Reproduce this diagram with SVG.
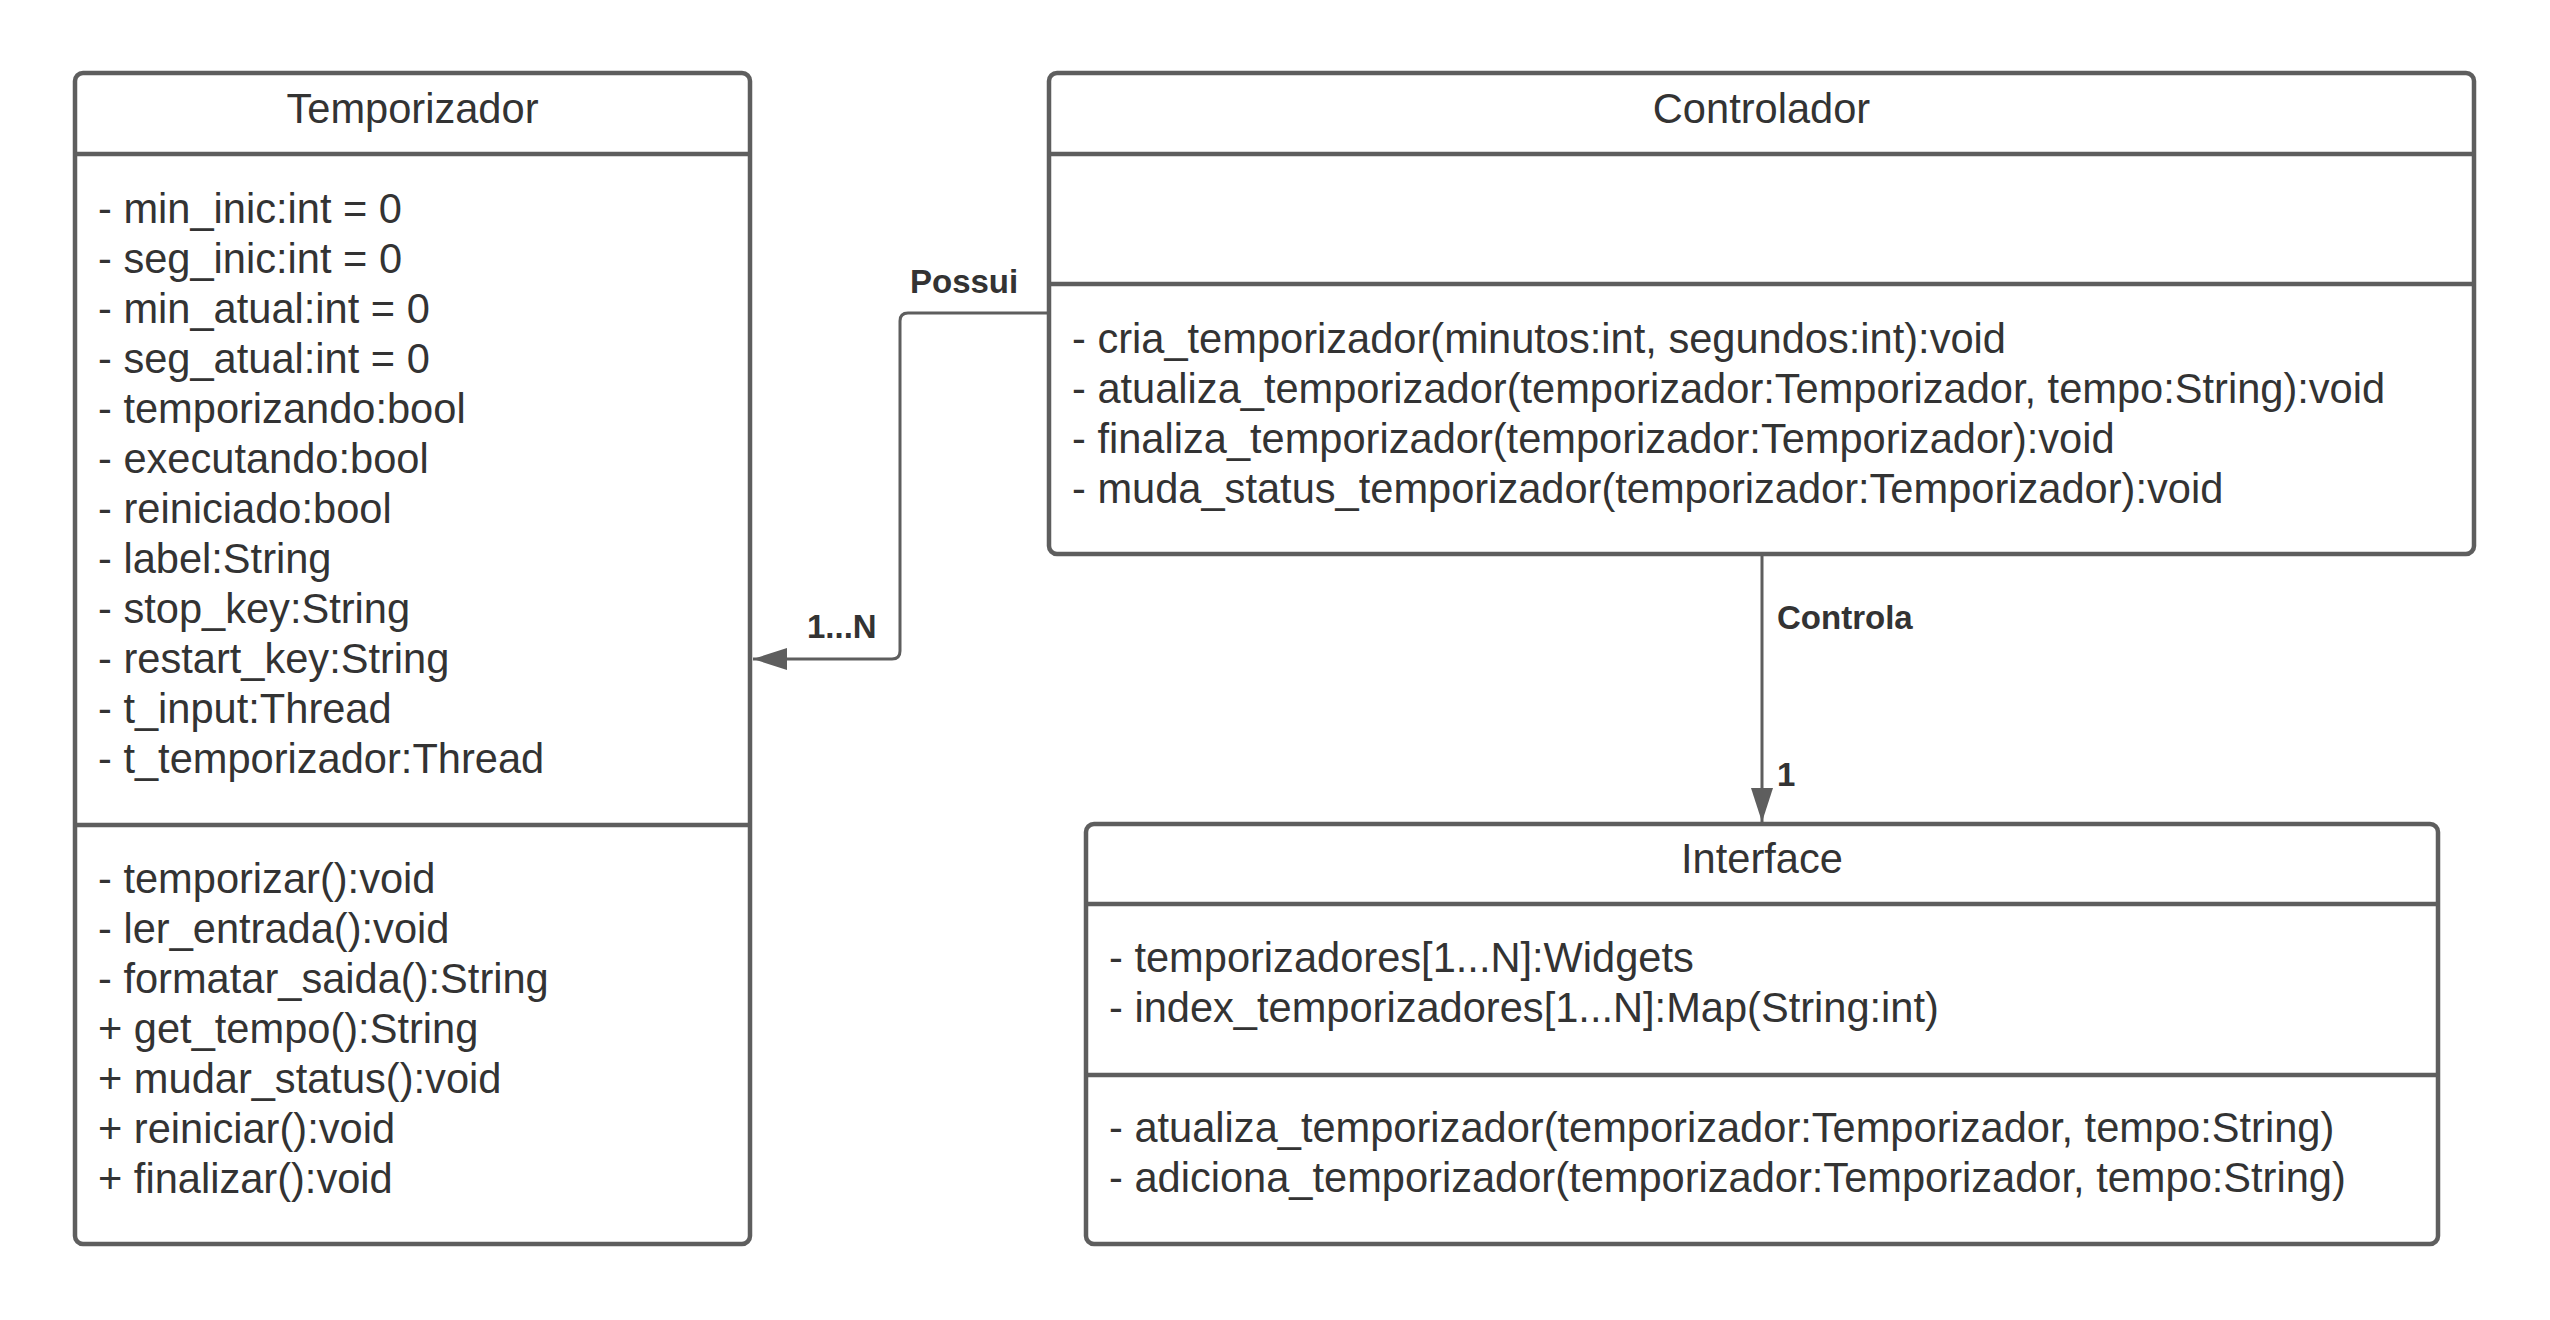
<svg xmlns="http://www.w3.org/2000/svg" width="2550" height="1320" viewBox="0 0 2550 1320">
<style>
.box{fill:#ffffff;stroke:#5e5e5e;stroke-width:4.5}
.div{stroke:#5e5e5e;stroke-width:4.5;fill:none}
.t{font-family:"Liberation Sans",Arial,sans-serif;font-size:41.6px;fill:#333333}
.c{text-anchor:middle}
.lbl{font-family:"Liberation Sans",Arial,sans-serif;font-size:33px;font-weight:bold;fill:#333333}
.edge{fill:none;stroke:#5e5e5e;stroke-width:3}
</style>
<defs>
<marker id="arrow" viewBox="0 0 34 22" refX="34" refY="11" markerWidth="34" markerHeight="22" orient="auto" markerUnits="userSpaceOnUse">
<path d="M0,0 L34,11 L0,22 z" fill="#5e5e5e"/>
</marker>
</defs>
<rect width="2550" height="1320" fill="#ffffff"/>
<g id="connectors">
<path class="edge" d="M1049,313 H908 Q900,313 900,321 V651 Q900,659 892,659 H753" marker-end="url(#arrow)"/>
<text class="lbl" x="910" y="293">Possui</text>
<text class="lbl" x="807" y="638">1...N</text>
<path class="edge" d="M1762,556 V822" marker-end="url(#arrow)"/>
<text class="lbl" x="1777" y="629">Controla</text>
<text class="lbl" x="1777" y="786">1</text>
</g>
<g id="temporizador">
<rect class="box" x="75" y="73" width="675" height="1171" rx="8"/>
<line class="div" x1="75" y1="154" x2="750" y2="154"/>
<line class="div" x1="75" y1="825" x2="750" y2="825"/>
<text class="t c" x="412.5" y="123">Temporizador</text>
<text class="t" x="98" y="223">- min_inic:int = 0</text>
<text class="t" x="98" y="273">- seg_inic:int = 0</text>
<text class="t" x="98" y="323">- min_atual:int = 0</text>
<text class="t" x="98" y="373">- seg_atual:int = 0</text>
<text class="t" x="98" y="423">- temporizando:bool</text>
<text class="t" x="98" y="473">- executando:bool</text>
<text class="t" x="98" y="523">- reiniciado:bool</text>
<text class="t" x="98" y="573">- label:String</text>
<text class="t" x="98" y="623">- stop_key:String</text>
<text class="t" x="98" y="673">- restart_key:String</text>
<text class="t" x="98" y="723">- t_input:Thread</text>
<text class="t" x="98" y="773">- t_temporizador:Thread</text>
<text class="t" x="98" y="893">- temporizar():void</text>
<text class="t" x="98" y="943">- ler_entrada():void</text>
<text class="t" x="98" y="993">- formatar_saida():String</text>
<text class="t" x="98" y="1043">+ get_tempo():String</text>
<text class="t" x="98" y="1093">+ mudar_status():void</text>
<text class="t" x="98" y="1143">+ reiniciar():void</text>
<text class="t" x="98" y="1193">+ finalizar():void</text>
</g>
<g id="controlador">
<rect class="box" x="1049" y="73" width="1425" height="481" rx="8"/>
<line class="div" x1="1049" y1="154" x2="2474" y2="154"/>
<line class="div" x1="1049" y1="284" x2="2474" y2="284"/>
<text class="t c" x="1761.5" y="123">Controlador</text>
<text class="t" x="1072" y="353">- cria_temporizador(minutos:int, segundos:int):void</text>
<text class="t" x="1072" y="403">- atualiza_temporizador(temporizador:Temporizador, tempo:String):void</text>
<text class="t" x="1072" y="453">- finaliza_temporizador(temporizador:Temporizador):void</text>
<text class="t" x="1072" y="503">- muda_status_temporizador(temporizador:Temporizador):void</text>
</g>
<g id="interface">
<rect class="box" x="1086" y="824" width="1352" height="420" rx="8"/>
<line class="div" x1="1086" y1="904" x2="2438" y2="904"/>
<line class="div" x1="1086" y1="1075" x2="2438" y2="1075"/>
<text class="t c" x="1762" y="873">Interface</text>
<text class="t" x="1109" y="972">- temporizadores[1...N]:Widgets</text>
<text class="t" x="1109" y="1022">- index_temporizadores[1...N]:Map(String:int)</text>
<text class="t" x="1109" y="1142">- atualiza_temporizador(temporizador:Temporizador, tempo:String)</text>
<text class="t" x="1109" y="1192">- adiciona_temporizador(temporizador:Temporizador, tempo:String)</text>
</g>
</svg>
